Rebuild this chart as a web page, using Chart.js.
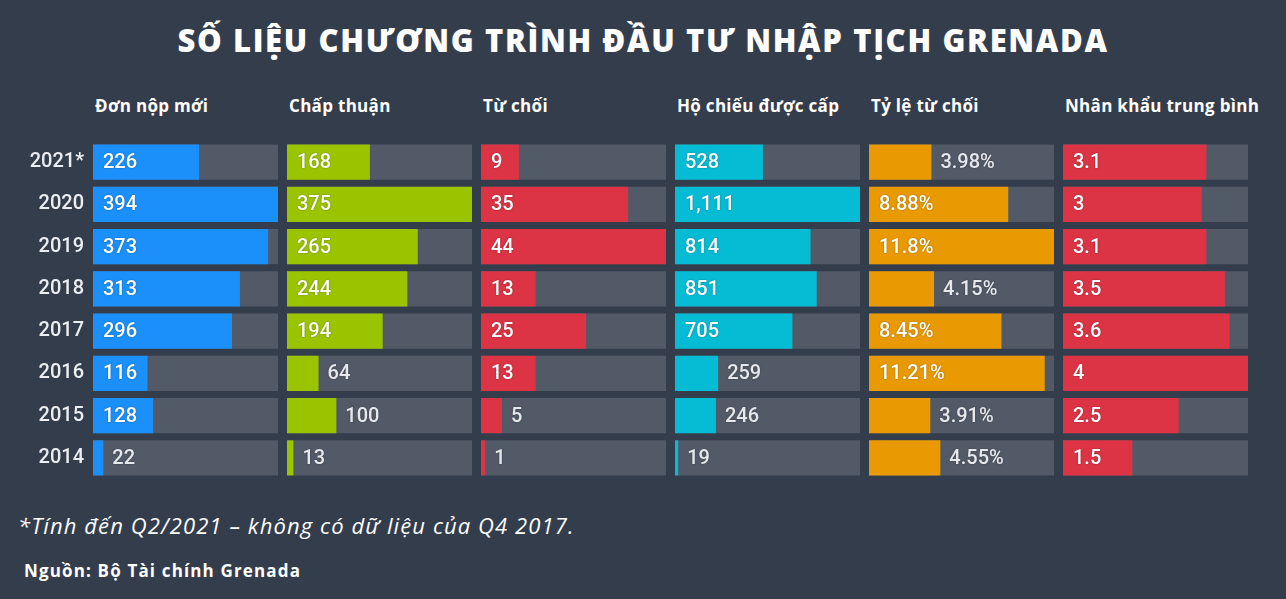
<!DOCTYPE html>
<html>
<head>
<meta charset="utf-8">
<script src="https://cdn.jsdelivr.net/npm/chart.js@4/dist/chart.umd.min.js"></script>
<style>
  html,body{margin:0;padding:0;}
  body{width:1286px;height:599px;background:#343d4c;position:relative;overflow:hidden;font-family:"Open Sans",sans-serif;color:#fff;}
  #title{position:absolute;left:0;top:19px;width:1286px;text-align:center;font-weight:800;font-size:31px;letter-spacing:1.65px;white-space:nowrap;}
  .hdr{position:absolute;top:94px;font-weight:700;font-size:17px;letter-spacing:0.3px;white-space:nowrap;}
  canvas{position:absolute;}
  #note{position:absolute;left:18px;top:510px;font-style:italic;font-size:22px;letter-spacing:1.1px;white-space:nowrap;}
  #src{position:absolute;left:24px;top:559px;font-weight:700;font-size:17px;letter-spacing:1.15px;white-space:nowrap;}
</style>
</head>
<body>
<div id="title">SỐ LIỆU CHƯƠNG TRÌNH ĐẦU TƯ NHẬP TỊCH GRENADA</div>
<div id="headers"></div>
<div id="charts"></div>
<div id="note">*Tính đến Q2/2021 – không có dữ liệu của Q4 2017.</div>
<div id="src">Nguồn: Bộ Tài chính Grenada</div>
<script>
// ---- DATA ----
const years = ["2021*", "2020", "2019", "2018", "2017", "2016", "2015", "2014"];
const panelTitles = ["Đơn nộp mới", "Chấp thuận", "Từ chối", "Hộ chiếu được cấp", "Tỷ lệ từ chối", "Nhân khẩu trung bình"];
const newApplications = [226, 394, 373, 313, 296, 116, 128, 22];
const approved = [168, 375, 265, 244, 194, 64, 100, 13];
const rejected = [9, 35, 44, 13, 25, 13, 5, 1];
const passportsIssued = [528, 1111, 814, 851, 705, 259, 246, 19];
const rejectionRate = ["3.98", "8.88", "11.8", "4.15", "8.45", "11.21", "3.91", "4.55"];
const avgFamilySize = [3.1, 3, 3.1, 3.5, 3.6, 4, 2.5, 1.5];
const panelMax = [394, 375, 44, 1111, 11.8, 4];

// ---- STYLE ----
const panelColors = ["#1b90fb", "#9bc400", "#dc3445", "#05bcd4", "#e99a02", "#dc3445"];
const trackColor = "#525a68";
const panelLefts = [93, 287, 481, 675, 869, 1063];
const panelWidth = 185;
const areaTop = 141, areaHeight = 338;

const series = [
  newApplications, approved, rejected, passportsIssued,
  rejectionRate.map(Number), avgFamilySize
];
const formatters = [
  v => String(v), v => String(v), v => String(v),
  v => v.toLocaleString("en-US"),
  (v, i) => rejectionRate[i] + "%",
  v => String(v)
];

const hdrBox = document.getElementById("headers");
const chartBox = document.getElementById("charts");

function makeLabelPlugin(fmt) {
  return {
    id: "valueLabels",
    afterDatasetsDraw(chart) {
      const ctx = chart.ctx;
      const meta = chart.getDatasetMeta(1);
      ctx.save();
      ctx.font = "500 20px Roboto";
      ctx.textBaseline = "middle";
      ctx.textAlign = "left";
      meta.data.forEach((el, i) => {
        const txt = fmt(chart.data.datasets[1].data[i], i);
        const tw = ctx.measureText(txt).width;
        const w = el.x - el.base;
        let x, col;
        if (w >= tw + 19) { x = el.base + 10; col = "#ffffff"; }
        else { x = el.x + 9; col = "#e6e8ec"; }
        ctx.shadowColor = "rgba(0,0,0,0.35)";
        ctx.shadowBlur = 2;
        ctx.fillStyle = col;
        ctx.fillText(txt, x, el.y + 1);
      });
      ctx.restore();
    }
  };
}

panelTitles.forEach((t, k) => {
  const h = document.createElement("div");
  h.className = "hdr";
  h.style.left = (panelLefts[k] + 2) + "px";
  h.textContent = t;
  hdrBox.appendChild(h);

  const first = k === 0;
  const cv = document.createElement("canvas");
  const left = first ? 0 : panelLefts[k];
  const width = first ? panelLefts[0] + panelWidth : panelWidth;
  cv.width = width; cv.height = areaHeight;
  cv.style.left = left + "px"; cv.style.top = areaTop + "px";
  cv.style.width = width + "px"; cv.style.height = areaHeight + "px";
  chartBox.appendChild(cv);

  new Chart(cv, {
    type: "bar",
    data: {
      labels: years,
      datasets: [
        { data: years.map(() => panelMax[k]), backgroundColor: trackColor, order: 2, grouped: false,
          barPercentage: 0.83, categoryPercentage: 1 },
        { data: series[k], backgroundColor: panelColors[k], order: 1, grouped: false,
          barPercentage: 0.83, categoryPercentage: 1 }
      ]
    },
    options: {
      indexAxis: "y",
      responsive: false,
      animation: false,
      devicePixelRatio: 1,
      layout: { padding: 0 },
      plugins: {
        legend: { display: false },
        tooltip: { enabled: false }
      },
      scales: {
        x: { display: false, min: 0, max: panelMax[k] },
        y: {
          display: first,
          grid: { display: false, drawTicks: false },
          border: { display: false },
          ticks: { color: "#eceef1", font: { family: "Roboto", size: 20, weight: "500" }, padding: 9 },
          afterFit: s => {
            if (first) { s.width = panelLefts[0]; s.paddingTop = 0; s.paddingBottom = 0; }
          }
        }
      }
    },
    plugins: [makeLabelPlugin(formatters[k])]
  });
});
</script>
</body>
</html>
